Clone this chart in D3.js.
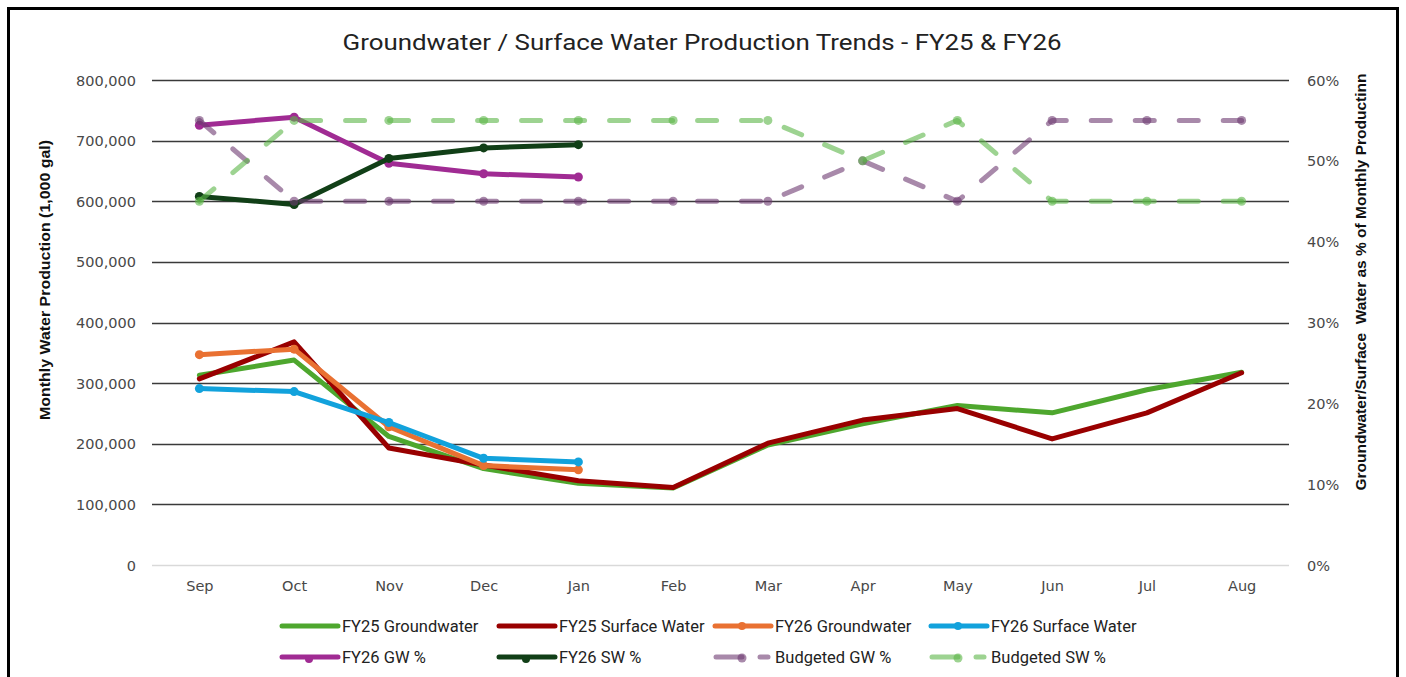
<!DOCTYPE html>
<html>
<head>
<meta charset="utf-8">
<script src="https://cdn.jsdelivr.net/npm/d3@7"></script>
<style>
  html, body { margin: 0; padding: 0; background: #fff; }
  svg { display: block; }
</style>
</head>
<body>
<svg id="chart" width="1406" height="677"></svg>
<script>
// ---- Data ----
const months = ["Sep","Oct","Nov","Dec","Jan","Feb","Mar","Apr","May","Jun","Jul","Aug"];
const leftTicks = [0,100000,200000,300000,400000,500000,600000,700000,800000];
const rightTicks = [0,0.1,0.2,0.3,0.4,0.5,0.6];

const fy25Groundwater = [313000,338000,212000,159000,135000,127000,198000,233000,263000,251000,289000,318000];
const fy25SurfaceWater = [307000,368000,193000,165000,139000,128000,201000,239000,258000,208000,251000,317000];
const fy26Groundwater = [347000,356000,228000,164000,157000];
const fy26SurfaceWater = [291000,286000,235000,176000,170000];
const fy26GWpct = [0.544,0.554,0.497,0.484,0.480];
const fy26SWpct = [0.456,0.446,0.503,0.516,0.520];
const budgetedGWpct = [0.55,0.45,0.45,0.45,0.45,0.45,0.45,0.50,0.45,0.55,0.55,0.55];
const budgetedSWpct = [0.45,0.55,0.55,0.55,0.55,0.55,0.55,0.50,0.55,0.45,0.45,0.45];

const series = [
  {name:"FY25 Groundwater", values:fy25Groundwater, axis:"L", color:"#4EA72E", markers:false, dashed:false, opacity:1},
  {name:"FY25 Surface Water", values:fy25SurfaceWater, axis:"L", color:"#990000", markers:false, dashed:false, opacity:1},
  {name:"FY26 Groundwater", values:fy26Groundwater, axis:"L", color:"#E97132", markers:true, dashed:false, opacity:1},
  {name:"FY26 Surface Water", values:fy26SurfaceWater, axis:"L", color:"#12A2DC", markers:true, dashed:false, opacity:1},
  {name:"FY26 GW %", values:fy26GWpct, axis:"R", color:"#A02B93", markers:true, dashed:false, opacity:1},
  {name:"FY26 SW %", values:fy26SWpct, axis:"R", color:"#113F17", markers:true, dashed:false, opacity:1},
  {name:"Budgeted GW %", values:budgetedGWpct, axis:"R", color:"#6E3A72", markers:true, dashed:true, opacity:0.6},
  {name:"Budgeted SW %", values:budgetedSWpct, axis:"R", color:"#5CB548", markers:true, dashed:true, opacity:0.6}
];

// ---- Layout ----
const svg = d3.select("#chart");
const plot = {left:152, right:1289, top:80, bottom:565};

svg.append("rect").attr("x",8.5).attr("y",8.5).attr("width",1389).attr("height",700)
  .attr("fill","#fff").attr("stroke","#000").attr("stroke-width",3);

const x = d3.scalePoint().domain(months).range([plot.left, plot.right]).padding(0.5);
const yL = d3.scaleLinear().domain([0,800000]).range([plot.bottom, plot.top]);
const yR = d3.scaleLinear().domain([0,0.6]).range([plot.bottom, plot.top]);

// gridlines
svg.append("g").selectAll("line").data(leftTicks).join("line")
  .attr("x1",plot.left).attr("x2",plot.right)
  .attr("y1",d=>Math.round(yL(d))+0.5).attr("y2",d=>Math.round(yL(d))+0.5)
  .attr("stroke",d=>d===0?"#d9d9d9":"#3a3a3a").attr("stroke-width",1.5);

// title
svg.append("text").attr("x",702).attr("y",50).attr("text-anchor","middle")
  .attr("font-family","Roboto, 'Open Sans', sans-serif").attr("font-size",22.5).attr("fill","#222")
  .attr("textLength",719).attr("lengthAdjust","spacingAndGlyphs")
  .text("Groundwater / Surface Water Production Trends - FY25 & FY26");

const tickFont = "'DejaVu Sans', sans-serif";
const tickSize = 14.5;
// left axis
const axL = d3.axisLeft(yL).tickValues(leftTicks).tickSize(0).tickPadding(0).tickFormat(d3.format(","));
const gL = svg.append("g").attr("transform","translate(136,0)").call(axL);
gL.select(".domain").remove();
gL.selectAll("text").attr("font-family",tickFont).attr("font-size",tickSize).attr("fill","#484848").attr("dy","0.35em");

// right axis
const axR = d3.axisRight(yR).tickValues(rightTicks).tickSize(0).tickPadding(0).tickFormat(d3.format(".0%"));
const gR = svg.append("g").attr("transform","translate(1307,0)").call(axR);
gR.select(".domain").remove();
gR.selectAll("text").attr("font-family",tickFont).attr("font-size",tickSize).attr("fill","#484848").attr("dy","0.35em");

// x axis
const axX = d3.axisBottom(x).tickSize(0).tickPadding(0);
const gX = svg.append("g").attr("transform","translate(0,581)").call(axX);
gX.select(".domain").remove();
gX.selectAll("text").attr("font-family",tickFont).attr("font-size",tickSize).attr("fill","#484848").attr("dy","0.71em");

// axis titles
const titleFont = "'Liberation Sans', Arial, sans-serif";
svg.append("text").attr("transform","translate(50,280) rotate(-90)").attr("text-anchor","middle")
  .attr("font-family",titleFont).attr("font-weight","bold").attr("font-size",15).attr("fill","#111")
  .attr("textLength",280).attr("lengthAdjust","spacingAndGlyphs")
  .text("Monthly Water Production (1,000 gal)");
svg.append("text").attr("transform","translate(1366,282) rotate(-90)").attr("text-anchor","middle")
  .attr("font-family",titleFont).attr("font-weight","bold").attr("font-size",15).attr("fill","#111")
  .attr("xml:space","preserve").style("white-space","pre")
  .attr("textLength",417).attr("lengthAdjust","spacingAndGlyphs")
  .text("Groundwater/Surface  Water as % of Monthly Productinn");

// series
const gS = svg.append("g");
series.forEach(s => {
  const yS = s.axis === "L" ? yL : yR;
  const pts = s.values.map((v,i)=>[x(months[i]), yS(v)]);
  const line = d3.line();
  gS.append("path").attr("d", line(pts)).attr("fill","none")
    .attr("stroke", s.color).attr("stroke-width", 5)
    .attr("stroke-opacity", s.opacity)
    .attr("stroke-linejoin","round")
    .attr("stroke-linecap","round")
    .attr("stroke-dasharray", s.dashed ? "19,25" : null);
  if (s.markers) {
    gS.append("g").selectAll("circle").data(pts).join("circle")
      .attr("cx",d=>d[0]).attr("cy",d=>d[1]).attr("r",4.5)
      .attr("fill",s.color).attr("fill-opacity",s.opacity);
  }
});

// legend
const legendPos = [[280,626],[497,626],[713,626],[929,626],[280,657],[497,657],[713,657],[929,657]];
const legendFont = "Roboto, 'Open Sans', sans-serif";
series.forEach((s,i) => {
  const [lx, ly] = legendPos[i];
  const g = svg.append("g");
  if (s.dashed) {
    g.append("line").attr("x1",lx+3).attr("x2",lx+29).attr("y1",ly).attr("y2",ly)
      .attr("stroke",s.color).attr("stroke-opacity",s.opacity).attr("stroke-width",5).attr("stroke-linecap","round");
    g.append("circle").attr("cx",lx+29).attr("cy",ly+1).attr("r",4.5).attr("fill",s.color).attr("fill-opacity",s.opacity);
    g.append("line").attr("x1",lx+47).attr("x2",lx+55).attr("y1",ly).attr("y2",ly)
      .attr("stroke",s.color).attr("stroke-opacity",s.opacity).attr("stroke-width",5).attr("stroke-linecap","round");
  } else {
    g.append("line").attr("x1",lx+2).attr("x2",lx+58).attr("y1",ly).attr("y2",ly)
      .attr("stroke",s.color).attr("stroke-width",5).attr("stroke-linecap","round");
    if (s.markers) {
      g.append("circle").attr("cx",lx+29).attr("cy", s.axis==="R" ? ly+2 : ly).attr("r",4)
        .attr("fill",s.color);
    }
  }
  g.append("text").attr("x",lx+62).attr("y",ly).attr("dy","0.35em")
    .attr("font-family",legendFont).attr("font-size",16.5).attr("fill","#222")
    .text(s.name);
});
</script>
</body>
</html>
